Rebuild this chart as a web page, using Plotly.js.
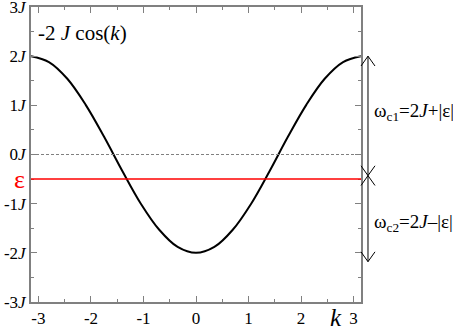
<!DOCTYPE html>
<html>
<head>
<meta charset="utf-8">
<script src="https://cdn.plot.ly/plotly-3.0.1.min.js"></script>
<style>html,body{margin:0;padding:0;background:#fff;}#chart{width:453px;height:332px;}</style>
</head>
<body>
<div id="chart"></div>
<script>
// Band dispersion
const kValues = [-3.1416, -2.8, -2.45, -2.1, -1.75, -1.4, -1.05, -0.7, -0.35, 0,
                 0.35, 0.7, 1.05, 1.4, 1.75, 2.1, 2.45, 2.8, 3.1416];
const energyValues = [2.00, 1.88, 1.54, 1.01, 0.36, -0.34, -1.00, -1.53, -1.88, -2.00,
                      -1.88, -1.53, -1.00, -0.34, 0.36, 1.01, 1.54, 1.88, 2.00];
const xTickVals = [-3, -2, -1, 0, 1, 2, 3];
const xTickText = ['-3', '-2', '-1', '0', '1', '2', '3'];
const yTickVals = [-3, -2, -1, 0, 1, 2, 3];
const yTickText = ['-3<i>J</i>', '-2<i>J</i>', '-1<i>J</i>', '0<i>J</i>', '1<i>J</i>', '2<i>J</i>', '3<i>J</i>'];
const epsilon = -0.5;
const bandTop = 2;
const arrowMeet = -0.43;
const arrowBottom = -2.18;
const kMin = -Math.PI, kMax = Math.PI;

const serif = 'Liberation Serif';
const gray = '#808080';

const trace = {
  x: kValues, y: energyValues, type: 'scatter', mode: 'lines',
  line: {color: 'black', width: 2, shape: 'spline'}, hoverinfo: 'skip'
};

const ax = 1.0212;           // arrow x position (paper)
const hw = 0.0212;           // arrow head half width (paper)
const hh = 0.2;              // arrow head height (data)
function vArrowHeads(yTop, yBot) {
  return [
    `M ${ax - hw},${yTop - hh} L ${ax},${yTop} L ${ax + hw},${yTop - hh}`,
    `M ${ax - hw},${yBot + hh} L ${ax},${yBot} L ${ax + hw},${yBot + hh}`
  ];
}
const shapes = [
  {type: 'line', xref: 'x', yref: 'y', x0: kMin, x1: kMax, y0: 0, y1: 0,
   line: {color: gray, width: 1, dash: '3px,2px'}},
  {type: 'line', xref: 'x', yref: 'y', x0: kMin, x1: kMax, y0: epsilon, y1: epsilon,
   line: {color: '#ff0000', width: 1.5}},
  {type: 'line', xref: 'paper', yref: 'y', x0: ax, x1: ax, y0: bandTop, y1: arrowMeet,
   line: {color: 'black', width: 1}},
  {type: 'line', xref: 'paper', yref: 'y', x0: ax, x1: ax, y0: arrowMeet, y1: arrowBottom,
   line: {color: 'black', width: 1}}
];
vArrowHeads(bandTop, arrowMeet).concat(vArrowHeads(arrowMeet, arrowBottom)).forEach(p => {
  shapes.push({type: 'path', xref: 'paper', yref: 'y', path: p, line: {color: 'black', width: 1}});
});

const annotations = [
  {xref: 'paper', yref: 'y', x: 0, y: 2.47, xanchor: 'left', yanchor: 'middle', xshift: 5,
   text: '-2 <i>J</i> cos(<i>k</i>)', showarrow: false, font: {family: serif, size: 21, color: 'black'}},
  {xref: 'paper', yref: 'y', x: 0, y: epsilon, xanchor: 'right', yanchor: 'middle', xshift: -4,
   text: 'ε', showarrow: false, font: {family: serif, size: 26, color: '#ff0000'}},
  {xref: 'x', yref: 'paper', x: 2.665, y: -0.1, xanchor: 'center', yanchor: 'bottom',
   text: '<i>k</i>', showarrow: false, borderpad: 0, font: {family: serif, size: 25, color: 'black'}},
  {xref: 'paper', yref: 'y', x: 1.033, y: 0.86, xanchor: 'left', yanchor: 'middle',
   text: 'ω<sub>c1</sub>=2<i>J</i>+|ε|', showarrow: false, font: {family: serif, size: 19, color: 'black'}},
  {xref: 'paper', yref: 'y', x: 1.033, y: -1.39, xanchor: 'left', yanchor: 'middle',
   text: 'ω<sub>c2</sub>=2<i>J</i>–|ε|', showarrow: false, font: {family: serif, size: 19, color: 'black'}}
];

const axisCommon = {
  showgrid: false, zeroline: false, showline: true, linecolor: gray, linewidth: 2,
  mirror: 'ticks', ticks: 'inside', ticklen: 6, tickwidth: 1, tickcolor: gray,
  ticklabeloverflow: 'allow',
  tickfont: {family: serif, size: 17, color: 'black'},
  minor: {ticks: 'inside', ticklen: 3, tickwidth: 1, tickcolor: gray, dtick: 0.5, showgrid: false}
};

const layout = {
  width: 453, height: 332,
  margin: {l: 31, r: 92, t: 7, b: 30, pad: 0},
  paper_bgcolor: 'white', plot_bgcolor: 'white',
  showlegend: false,
  font: {family: serif},
  xaxis: Object.assign({}, axisCommon, {range: [kMin, kMax], tickvals: xTickVals, ticktext: xTickText,
    minor: Object.assign({}, axisCommon.minor, {tick0: 0})}),
  yaxis: Object.assign({}, axisCommon, {range: [-3, 3], tickvals: yTickVals, ticktext: yTickText,
    minor: Object.assign({}, axisCommon.minor, {tick0: 0})}),
  shapes: shapes,
  annotations: annotations
};

Plotly.newPlot('chart', [trace], layout, {displayModeBar: false, staticPlot: true});
</script>
</body>
</html>
